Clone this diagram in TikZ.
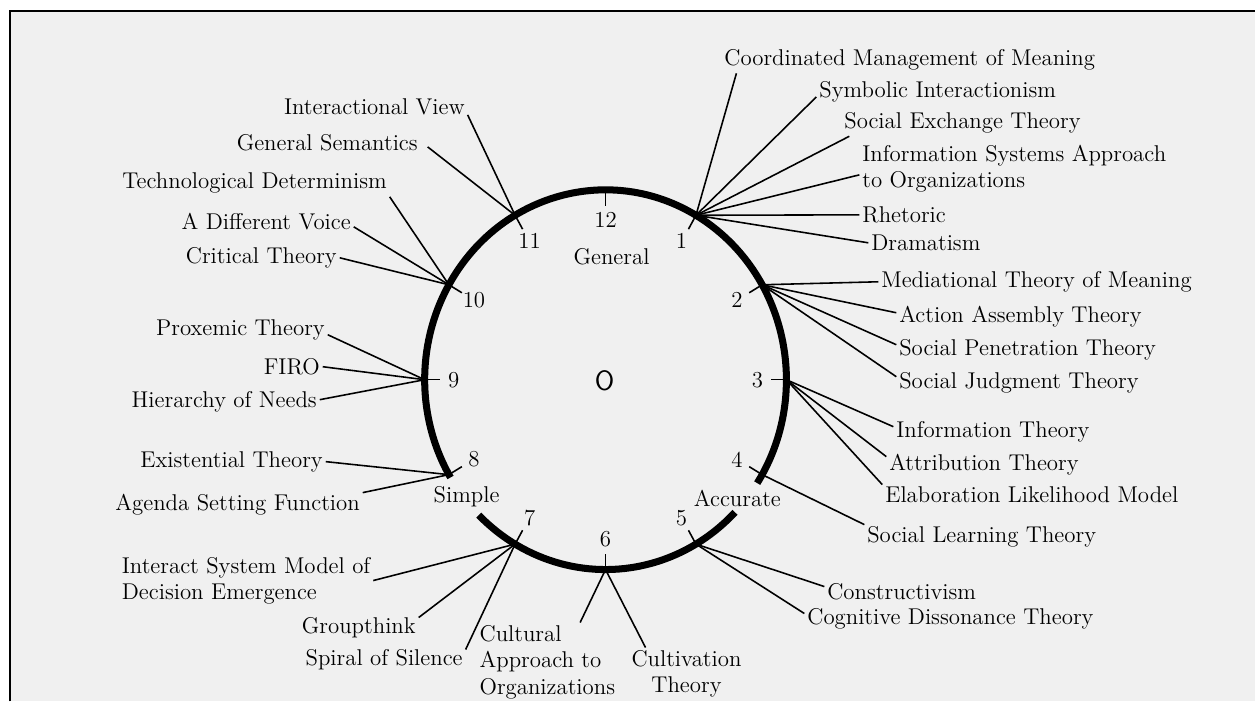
\documentclass[tikz,border=0pt]{standalone}
\usepackage{tikz}

\begin{document}
\begin{tikzpicture}[
				x=0.02cm, y=0.02cm,
				theory/.style={font=\fontsize{13}{15}\selectfont, inner sep=1.5pt},
				hour/.style={font=\fontsize{13}{15}\selectfont, inner sep=0pt},
				rim/.style={line width=4pt},
				spoke/.style={line width=0.9pt},
				tick/.style={line width=0.9pt},
				]
				%Paper
				\fill[white] (-606,-322) rectangle (650,380);
				\fill[black!6] (-596,-322) rectangle (650,369);
				\draw[line width=1.1pt] (-596,-322) -- (-596,369) -- (650,369);
				\useasboundingbox (-606,-322) rectangle (650,380);
				
				%Clock
				\draw[rim] (-33:181 and 190) arc[start angle=-33, end angle=211, x radius=181, y radius=190];
				\draw[rim] (225.5:181 and 190) arc[start angle=225.5, end angle=315.7, x radius=181, y radius=190];
				\foreach \h in {1,...,12}{
					\coordinate (h\h) at ({90-30*\h}:181 and 190);
					\coordinate (t\h) at ({90-30*\h}:166 and 174);
					\node[hour] (n\h) at ({90-30*\h}:152 and 160) {\h};
					\draw[tick] (h\h) -- (t\h);
				}
				\node[hour] (general) at (6,123) {General};
				\node[hour] (simple) at (-139,-117) {Simple};
				\node[hour] (accurate) at (132,-119) {Accurate};
				\node[hour, font=\fontsize{16}{18}\selectfont] (origin) at (-1,-1) {\textsf{O}};
				
				%Nodes
				\node[theory, anchor=west] (cmm) at (116,320) {Coordinated Management of Meaning};
				\node[theory, anchor=west] (sym) at (211,288) {Symbolic Interactionism};
				\node[theory, anchor=west] (set) at (236,257) {Social Exchange Theory};
				\node[theory, anchor=west, align=left] (isa) at (254,211) {Information Systems Approach\\to Organizations};
				\node[theory, anchor=west] (rhet) at (254,165) {Rhetoric};
				\node[theory, anchor=west] (dram) at (263,137) {Dramatism};
				\node[theory, anchor=west] (med) at (273,98) {Mediational Theory of Meaning};
				\node[theory, anchor=west] (aat) at (291,63) {Action Assembly Theory};
				\node[theory, anchor=west] (spt) at (291,30) {Social Penetration Theory};
				\node[theory, anchor=west] (sjt) at (291,-3) {Social Judgment Theory};
				\node[theory, anchor=west] (inf) at (288,-52) {Information Theory};
				\node[theory, anchor=west] (att) at (281,-85) {Attribution Theory};
				\node[theory, anchor=west] (elm) at (277,-115) {Elaboration Likelihood Model};
				\node[theory, anchor=west] (slt) at (259,-157) {Social Learning Theory};
				\node[theory, anchor=west] (con) at (219,-212) {Constructivism};
				\node[theory, anchor=west] (cdt) at (199,-239) {Cognitive Dissonance Theory};
				
				\node[theory, anchor=east] (iv) at (-138,273) {Interactional View};
				\node[theory, anchor=east] (gs) at (-185,237) {General Semantics};
				\node[theory, anchor=east] (td) at (-216,197) {Technological Determinism};
				\node[theory, anchor=east] (adv) at (-252,158) {A Different Voice};
				\node[theory, anchor=east] (ct) at (-266,122) {Critical Theory};
				\node[theory, anchor=east] (pt) at (-278,50) {Proxemic Theory};
				\node[theory, anchor=east] (firo) at (-283,13) {FIRO};
				\node[theory, anchor=east] (hon) at (-286,-22) {Hierarchy of Needs};
				\node[theory, anchor=east] (et) at (-280,-82) {Existential Theory};
				\node[theory, anchor=east] (asf) at (-243,-125) {Agenda Setting Function};
				\node[theory, anchor=west, align=left] (ism) at (-487,-201) {Interact System Model of\\Decision Emergence};
				\node[theory, anchor=east] (gt) at (-187,-248) {Groupthink};
				\node[theory, anchor=east] (sos) at (-140,-280) {Spiral of Silence};
				\node[theory, anchor=north west, align=left] (cap) at (-129,-243) {Cultural\\Approach to\\Organizations};
				\node[theory, anchor=north, align=center] (cult) at (81,-268) {Cultivation\\Theory};
				
				%Lines
				\draw[spoke] (h1) -- ([xshift=0.3cm]cmm.south west);
				\draw[spoke] (h1) -- ([yshift=-0.1cm]sym.west);
				\draw[spoke] (h1) -- ([xshift=0.16cm]set.south west);
				\draw[spoke] (h1) -- ([yshift=-0.12cm]isa.west);
				\draw[spoke] (h1) -- (rhet.west);
				\draw[spoke] (h1) -- (dram.west);
				
				\draw[spoke] (h2) -- (med.west);
				\draw[spoke] (h2) -- ([yshift=0.08cm]aat.west);
				\draw[spoke] (h2) -- ([yshift=0.1cm]spt.west);
				\draw[spoke] (h2) -- ([yshift=0.12cm]sjt.west);
				
				\draw[spoke] (h3) -- ([yshift=0.1cm]inf.west);
				\draw[spoke] (h3) -- ([yshift=0.16cm]att.west);
				\draw[spoke] (h3) -- ([yshift=0.2cm]elm.west);
				
				\draw[spoke] (h4) -- ([yshift=0.24cm]slt.west);
				
				\draw[spoke] (h5) -- ([yshift=0.1cm]con.west);
				\draw[spoke] (h5) -- ([yshift=0.1cm]cdt.west);
				
				\draw[spoke] (h6) -- ([xshift=-0.76cm]cap.north east);
				\draw[spoke] (h6) -- ([xshift=0.34cm]cult.north west);
				
				\draw[spoke] (h7) -- (ism.east);
				\draw[spoke] (h7) -- ([yshift=0.2cm]gt.east);
				\draw[spoke] (h7) -- ([yshift=0.2cm]sos.east);
				
				\draw[spoke] (h8) -- (et.east);
				\draw[spoke] (h8) -- ([yshift=0.24cm]asf.east);
				
				\draw[spoke] (h9) -- ([yshift=-0.1cm]pt.east);
				\draw[spoke] (h9) -- (firo.east);
				\draw[spoke] (h9) -- ([yshift=0.04cm]hon.east);
				
				\draw[spoke] (h10) -- ([yshift=-0.28cm]td.east);
				\draw[spoke] (h10) -- ([yshift=-0.1cm]adv.east);
				\draw[spoke] (h10) -- (ct.east);
				
				\draw[spoke] (h11) -- ([yshift=-0.16cm]iv.east);
				\draw[spoke] (h11) -- ([xshift=0.14cm,yshift=-0.08cm]gs.east);
				
			\end{tikzpicture}
\end{document}
